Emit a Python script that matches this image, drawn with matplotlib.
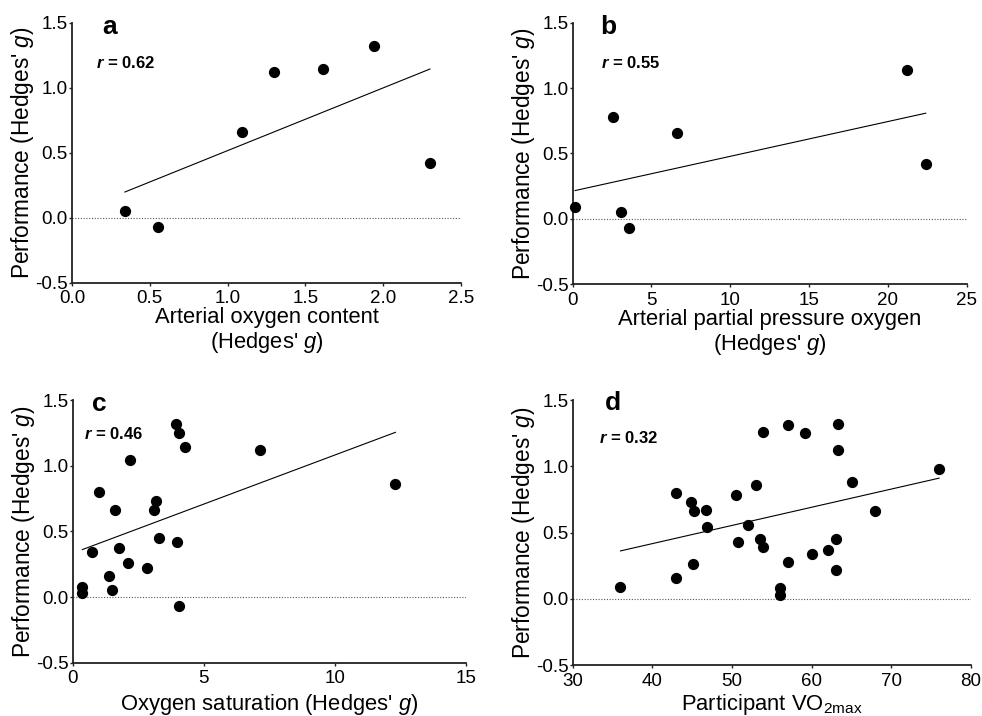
import numpy as np
import matplotlib
matplotlib.use("Agg")
import matplotlib.pyplot as plt

plt.rcParams['font.family'] = ['Liberation Sans', 'DejaVu Sans']
plt.rcParams['mathtext.fontset'] = 'custom'
plt.rcParams['mathtext.rm'] = 'Liberation Sans'
plt.rcParams['mathtext.it'] = 'Liberation Sans:italic'
plt.rcParams['mathtext.bf'] = 'Liberation Sans:bold'
plt.rcParams['mathtext.bfit'] = 'Liberation Sans:italic:bold'

# panel a - arterial oxygen content
a_x = [0.34, 0.55, 1.09, 1.30, 1.61, 1.94, 2.30]
a_y = [0.05, -0.07, 0.66, 1.12, 1.14, 1.32, 0.42]

# panel b - arterial partial pressure oxygen
b_x = [0.15, 2.56, 3.05, 3.56, 6.63, 21.2, 22.4]
b_y = [0.09, 0.78, 0.05, -0.07, 0.66, 1.14, 0.42]

# panel c - oxygen saturation
c_x = [0.37, 0.37, 0.73, 1.02, 1.37, 1.49, 1.63, 1.78, 2.12, 2.19, 2.85,
       3.09, 3.19, 3.29, 3.95, 3.99, 4.05, 4.05, 4.29, 7.15, 12.31]
c_y = [0.08, 0.03, 0.34, 0.80, 0.16, 0.05, 0.66, 0.37, 0.26, 1.04, 0.22,
       0.66, 0.73, 0.45, 1.32, 0.42, 1.25, -0.07, 1.14, 1.12, 0.86]

# panel d - participant VO2max
d_x = [36.0, 43.0, 43.0, 44.8, 45.2, 45.1, 46.7, 46.8, 50.5, 50.7, 52.0,
       53.0, 53.5, 53.9, 53.9, 56.0, 56.0, 57.0, 57.0, 59.1, 60.0, 62.0,
       63.0, 63.0, 63.3, 63.3, 65.0, 68.0, 76.0]
d_y = [0.09, 0.80, 0.16, 0.73, 0.66, 0.26, 0.67, 0.54, 0.78, 0.43, 0.56,
       0.86, 0.45, 0.39, 1.26, 0.08, 0.03, 1.31, 0.28, 1.25, 0.34, 0.37,
       0.45, 0.22, 1.32, 1.12, 0.88, 0.66, 0.98]

letters = ['a', 'b', 'c', 'd']
r_labels = ['0.62', '0.55', '0.46', '0.32']
xlabels = ["Arterial oxygen content\n(Hedges' $\\it{g}$)",
           "Arterial partial pressure oxygen\n(Hedges' $\\it{g}$)",
           "Oxygen saturation (Hedges' $\\it{g}$)",
           "Participant VO$_{\\rm 2max}$"]
xlims = [(0, 2.5), (0, 25), (0, 15), (30, 80)]
xticks = [[0, 0.5, 1.0, 1.5, 2.0, 2.5], [0, 5, 10, 15, 20, 25],
          [0, 5, 10, 15], [30, 40, 50, 60, 70, 80]]
xfmt = ['{:.1f}', '{:d}', '{:d}', '{:d}']
xlabel_pads = [0, 0, 3, 2]

boxes = [[0.0733, 0.6052, 0.3962, 0.3631],
         [0.5832, 0.6030, 0.4012, 0.3653],
         [0.0740, 0.0744, 0.4005, 0.3669],
         [0.5832, 0.0712, 0.4056, 0.3701]]
letter_pos = [(0.079, 0.957), (0.069, 0.957), (0.050, 0.958), (0.081, 0.962)]
r_pos = [(0.063, 0.825), (0.071, 0.825), (0.029, 0.850), (0.067, 0.839)]

fig = plt.figure(figsize=(9.82, 7.16), dpi=100)

data = [(a_x, a_y), (b_x, b_y), (c_x, c_y), (d_x, d_y)]
for i, (xs, ys) in enumerate(data):
    ax = fig.add_axes(boxes[i])
    xs = np.array(xs)
    ys = np.array(ys)

    ax.axhline(0, color='#555555', lw=0.8, ls=(0, (1, 1.5)), zorder=1)

    # least squares line over the range of the points
    slope, icpt = np.polyfit(xs, ys, 1)
    lx = np.array([xs.min(), xs.max()])
    ax.plot(lx, slope * lx + icpt, color='black', lw=0.8, zorder=2)

    ax.scatter(xs, ys, s=50, color='black', zorder=3, clip_on=False)

    ax.set_xlim(*xlims[i])
    ax.set_ylim(-0.5, 1.5)
    ax.set_xticks(xticks[i])
    ax.set_xticklabels([xfmt[i].format(t) for t in xticks[i]])
    ax.set_yticks([-0.5, 0.0, 0.5, 1.0, 1.5])
    ax.set_yticklabels(['-0.5', '0.0', '0.5', '1.0', '1.5'])

    for s in ['top', 'right']:
        ax.spines[s].set_visible(False)
    for s in ['left', 'bottom']:
        ax.spines[s].set_linewidth(1.3)
        ax.spines[s].set_color('#222222')
    ax.tick_params(direction='out', length=2.5, width=1,
                   labelsize=13.5, colors='#222222', labelcolor='black')
    ax.tick_params(axis='y', pad=0.5)
    ax.tick_params(axis='x', pad=3)

    ax.set_xlabel(xlabels[i], fontsize=15.8, labelpad=xlabel_pads[i],
                  linespacing=1.12)
    ax.set_ylabel("Performance (Hedges' $\\it{g}$)", fontsize=16.3, labelpad=-0.5)

    ax.text(letter_pos[i][0], letter_pos[i][1], letters[i], transform=ax.transAxes,
            fontsize=19, fontweight='bold', ha='left', va='baseline')
    ax.text(r_pos[i][0], r_pos[i][1], "$\\mathbfit{r}$ = " + r_labels[i],
            transform=ax.transAxes, fontsize=12, fontweight='bold',
            ha='left', va='baseline')

fig.savefig('out.png', dpi=100)
